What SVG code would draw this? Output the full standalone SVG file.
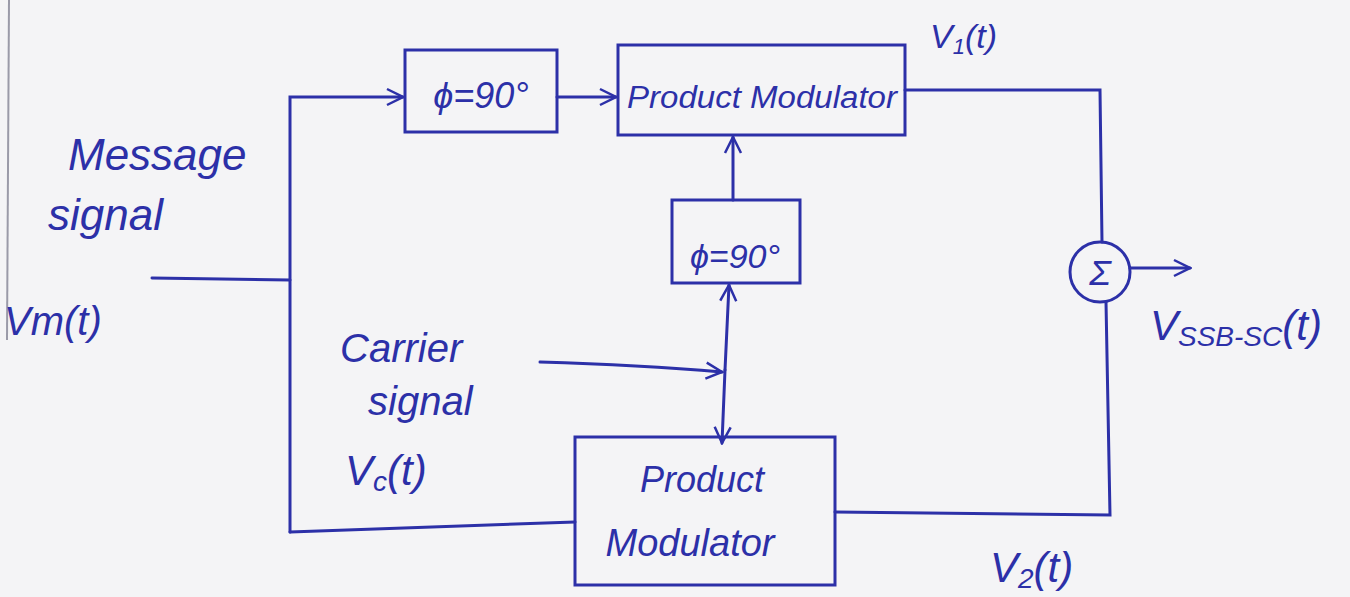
<svg xmlns="http://www.w3.org/2000/svg" width="1350" height="597" viewBox="0 0 1350 597">
<defs>
<style>
.bg{fill:#f4f4f6}
.box{fill:none;stroke:#2c30a8;stroke-width:3}
.ln{fill:none;stroke:#2c30a8;stroke-width:3;stroke-linecap:round}
.t{font-family:"Liberation Sans",Arial,sans-serif;fill:#2c30a8;font-style:italic}
</style>
<marker id="ah" viewBox="0 0 20 20" refX="18" refY="10" markerWidth="20" markerHeight="20" markerUnits="userSpaceOnUse" orient="auto">
<path d="M2,2 L18,10 L2,18" fill="none" stroke="#2c30a8" stroke-width="2.5"/>
</marker>
</defs>
<rect class="bg" x="0" y="0" width="1350" height="597"/>
<line x1="9" y1="0" x2="7" y2="340" stroke="#9a9aa8" stroke-width="2"/>

<g id="connectors">
<line class="ln" x1="152" y1="278" x2="290" y2="280"/>
<path class="ln" d="M290,532 L290,97 L403,97" marker-end="url(#ah)"/>
<line class="ln" x1="557" y1="97" x2="616" y2="97" marker-end="url(#ah)"/>
<line class="ln" x1="290" y1="532" x2="575" y2="522"/>
<line class="ln" x1="733" y1="200" x2="733" y2="137" marker-end="url(#ah)"/>
<line class="ln" x1="725" y1="370" x2="729" y2="285" marker-end="url(#ah)"/>
<line class="ln" x1="725" y1="370" x2="722" y2="443" marker-end="url(#ah)"/>
<path class="ln" d="M540,362 Q640,365 722,372" marker-end="url(#ah)"/>
<path class="ln" d="M905,90 L1100,90 L1102,242"/>
<path class="ln" d="M835,512 L1110,515 L1106,302"/>
<line class="ln" x1="1130" y1="268" x2="1190" y2="268" marker-end="url(#ah)"/>
</g>

<g id="phase1">
<rect class="box" x="405" y="50" width="152" height="82"/>
<text class="t" x="481" y="108" font-size="36" text-anchor="middle">ϕ=90°</text>
</g>
<g id="pm1">
<rect class="box" x="618" y="45" width="287" height="90"/>
<text class="t" x="762" y="108" font-size="31" text-anchor="middle" textLength="270" lengthAdjust="spacingAndGlyphs">Product Modulator</text>
</g>
<g id="phase2">
<rect class="box" x="672" y="200" width="128" height="83"/>
<text class="t" x="735" y="268" font-size="34" text-anchor="middle">ϕ=90°</text>
</g>
<g id="pm2">
<rect class="box" x="575" y="437" width="260" height="148"/>
<text class="t" x="702" y="492" font-size="36" text-anchor="middle">Product</text>
<text class="t" x="690" y="556" font-size="38" text-anchor="middle">Modulator</text>
</g>
<g id="sum">
<circle class="box" cx="1100" cy="272" r="30"/>
<text class="t" x="1100" y="285" font-size="36" text-anchor="middle" font-style="normal">Σ</text>
</g>

<g id="labels">
<text class="t" x="68" y="170" font-size="44">Message</text>
<text class="t" x="48" y="230" font-size="44">signal</text>
<text class="t" x="4" y="335" font-size="40">Vm(t)</text>
<text class="t" x="340" y="362" font-size="40">Carrier</text>
<text class="t" x="368" y="415" font-size="40">signal</text>
<text class="t" x="345" y="485" font-size="42">V<tspan font-size="28" dy="6">c</tspan><tspan dy="-6">(t)</tspan></text>
<text class="t" x="930" y="48" font-size="34">V<tspan font-size="22" dy="6">1</tspan><tspan dy="-6">(t)</tspan></text>
<text class="t" x="1150" y="340" font-size="42">V<tspan font-size="28" dy="6">SSB-SC</tspan><tspan dy="-6">(t)</tspan></text>
<text class="t" x="990" y="582" font-size="42">V<tspan font-size="28" dy="6">2</tspan><tspan dy="-6">(t)</tspan></text>
</g>
</svg>
